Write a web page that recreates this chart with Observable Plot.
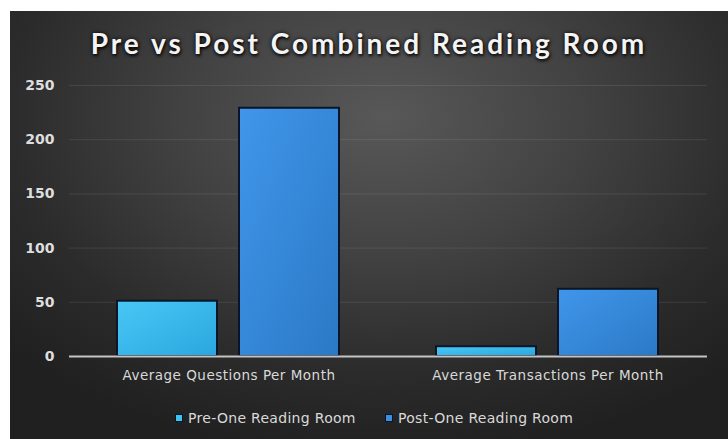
<!DOCTYPE html>
<html>
<head>
<meta charset="utf-8">
<script src="https://cdn.jsdelivr.net/npm/d3@7"></script>
<script src="https://cdn.jsdelivr.net/npm/@observablehq/plot@0.6"></script>
<style>
  html, body { margin: 0; padding: 0; background: #fff; }
  #panel {
    position: absolute; left: 10px; top: 11px; width: 718px; height: 428px;
    background: radial-gradient(ellipse 70% 80% at 52% 25%, #585858 0%, #424242 40%, #2b2b2b 75%, #202020 100%);
    overflow: hidden;
  }
  #title {
    position: absolute; left: 0; top: 17px; width: 718px; text-align: center;
    font-family: Lato, "DejaVu Sans", sans-serif; font-weight: 700; font-size: 28px;
    letter-spacing: 3px; color: #f4f4f4; line-height: 30px;
    text-shadow: 0 0 4px rgba(0,0,0,0.9), 1px 2px 3px rgba(0,0,0,0.7);
  }
  #chart { position: absolute; left: 0; top: 55px; }
  #legend {
    position: absolute; top: 399px; left: 0; width: 718px;
    font-family: "DejaVu Sans", sans-serif; font-size: 14px; letter-spacing: 0.3px; color: #d9d9d9;
  }
  .item { position: absolute; top: 0; display: flex; align-items: center; white-space: nowrap; }
  .sw { display: inline-block; flex-shrink: 0; box-sizing: border-box; width: 8px; height: 8px; border: 1.5px solid #0a1628; margin-right: 5px; }
  svg g[aria-label="fx-axis tick label"] text { letter-spacing: 0.5px; }
</style>
</head>
<body>
<div id="panel">
  <div id="title">Pre vs Post Combined Reading Room</div>
  <div id="chart"></div>
  <div id="legend"></div>
</div>
<script>
const categories = ["Average Questions Per Month", "Average Transactions Per Month"];
const series = ["Pre-One Reading Room", "Post-One Reading Room"];
const preValues = [51, 9];
const postValues = [229, 62];
const yTicks = [0, 50, 100, 150, 200, 250];
const seriesFills = ["url(#gPre)", "url(#gPost)"];
const legendColors = ["#3ec2f2", "#3d8ee0"];

const data = [];
categories.forEach((c, i) => {
  data.push({category: c, series: series[0], value: preValues[i]});
  data.push({category: c, series: series[1], value: postValues[i]});
});

const plot = Plot.plot({
  width: 718,
  height: 330,
  marginLeft: 58,
  marginRight: 21,
  marginTop: 19,
  marginBottom: 40,
  style: {background: "transparent", color: "#d9d9d9", fontFamily: "DejaVu Sans, sans-serif"},
  fx: {domain: categories, padding: 0, label: null},
  x: {domain: series, paddingInner: 0.18, paddingOuter: 0.39, axis: null},
  y: {domain: [0, 250], label: null},
  color: {domain: series, range: seriesFills},
  marks: [
    Plot.gridY(yTicks, {stroke: "#ffffff", strokeOpacity: 0.09, strokeWidth: 1}),
    Plot.barY(data, {fx: "category", x: "series", y: "value", fill: "series", stroke: "#0a1628", strokeWidth: 2}),
    Plot.ruleY([0], {stroke: "#c4c4c4", strokeWidth: 2}),
    Plot.axisY(yTicks, {tickSize: 0, tickPadding: 15, fontSize: 14, fontWeight: "bold", fill: "#dedede", label: null}),
    Plot.axisFx({anchor: "bottom", tickSize: 0, tickPadding: 14, fontSize: 13.5, fill: "#d9d9d9", label: null})
  ]
});

const svg = d3.select(plot);
const defs = svg.insert("defs", ":first-child");
function grad(id, c1, c2) {
  const g = defs.append("linearGradient").attr("id", id)
    .attr("x1", "0").attr("y1", "0").attr("x2", "1").attr("y2", "1");
  g.append("stop").attr("offset", "0%").attr("stop-color", c1);
  g.append("stop").attr("offset", "100%").attr("stop-color", c2);
}
grad("gPre", "#48c8f6", "#2aa6de");
grad("gPost", "#4196ea", "#2a79c6");

document.getElementById("chart").appendChild(plot);

const legend = document.getElementById("legend");
const lefts = [165, 375];
series.forEach((s, i) => {
  const it = document.createElement("div");
  it.className = "item";
  it.style.left = lefts[i] + "px";
  const sw = document.createElement("span");
  sw.className = "sw";
  sw.style.background = legendColors[i];
  const tx = document.createElement("span");
  tx.textContent = s;
  it.appendChild(sw); it.appendChild(tx);
  legend.appendChild(it);
});
</script>
</body>
</html>
